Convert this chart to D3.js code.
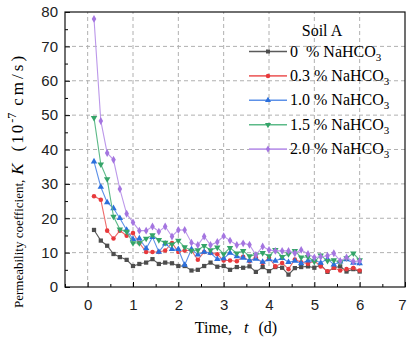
<!DOCTYPE html>
<html>
<head>
<meta charset="utf-8">
<script src="https://cdn.jsdelivr.net/npm/d3@7"></script>
<style>
  html, body { margin: 0; padding: 0; background: #fff; }
  svg { display: block; font-family: "Liberation Serif", "DejaVu Serif", serif; }
</style>
</head>
<body>
<div id="chart"></div>
<script>
// time (d)
const times = [0.14, 0.29, 0.43, 0.57, 0.71, 0.86, 1.00, 1.14, 1.29, 1.43, 1.57, 1.71, 1.86, 2.00,
  2.14, 2.29, 2.43, 2.57, 2.71, 2.86, 3.00, 3.14, 3.29, 3.43, 3.57, 3.71, 3.86, 4.00,
  4.14, 4.29, 4.43, 4.57, 4.71, 4.86, 5.00, 5.14, 5.29, 5.43, 5.57, 5.71, 5.86, 6.00];

// permeability K (1e-7 cm/s)
const k00 = [16.6, 13.5, 12.0, 9.6, 8.7, 7.9, 6.1, 6.7, 7.1, 8.1, 6.7, 7.1, 6.9, 6.1,
  6.1, 4.8, 5.0, 6.1, 7.1, 5.9, 6.1, 5.0, 5.8, 5.6, 6.0, 4.4, 5.8, 4.6,
  5.8, 5.6, 3.6, 5.5, 5.8, 6.0, 5.6, 6.4, 4.4, 5.6, 6.0, 4.5, 5.2, 4.5];
const k03 = [26.4, 25.4, 16.4, 14.1, 16.4, 14.9, 15.7, 12.8, 10.2, 10.2, 10.2, 10.6, 12.8, 10.2,
  10.6, 10.6, 7.9, 10.2, 9.9, 9.5, 7.7, 7.7, 7.5, 8.8, 7.5, 8.6, 7.0, 8.5,
  6.0, 7.0, 5.2, 8.0, 7.2, 6.8, 7.6, 6.0, 4.6, 5.6, 4.8, 5.2, 5.5, 4.8];
const k10 = [36.5, 29.1, 24.6, 22.9, 20.0, 16.6, 13.9, 14.1, 11.2, 14.5, 10.2, 12.6, 11.0, 11.0,
  6.4, 11.0, 9.4, 10.2, 9.9, 8.1, 8.3, 9.9, 8.9, 8.5, 7.7, 8.2, 7.3, 8.0,
  7.6, 8.4, 7.2, 7.6, 6.9, 7.7, 7.9, 7.0, 8.2, 6.5, 7.4, 8.0, 7.0, 6.9];
const k15 = [49.2, 35.7, 31.4, 20.5, 16.8, 16.1, 12.8, 12.8, 14.1, 15.1, 13.7, 12.9, 12.4, 13.5,
  11.6, 10.6, 10.7, 12.0, 10.7, 11.5, 9.6, 11.4, 9.8, 10.5, 9.0, 9.4, 9.9, 9.0,
  10.8, 8.8, 9.6, 10.5, 8.6, 8.8, 7.4, 9.2, 7.6, 7.8, 7.2, 8.4, 9.8, 7.8];
const k20 = [78.0, 48.3, 39.0, 37.0, 28.5, 21.3, 18.8, 16.4, 16.4, 17.6, 16.1, 17.6, 14.7, 16.6,
  16.6, 12.9, 12.2, 14.7, 12.2, 13.1, 14.8, 13.5, 12.2, 12.7, 12.3, 9.3, 11.8, 10.8,
  10.5, 10.5, 10.5, 9.8, 10.8, 9.6, 8.6, 8.8, 9.1, 9.8, 7.6, 8.6, 7.4, 7.6];

const seriesNames = ['0', '0.3', '1.0', '1.5', '2.0'];
const xTicks = [0, 1, 2, 3, 4, 5, 6, 7];
const yTicks = [0, 10, 20, 30, 40, 50, 60, 70, 80];

const series = [
  { name: seriesNames[0], values: k00, mark: '#4d4d4d', line: '#5a5a5a', shape: d3.symbolSquare, rot: 0 },
  { name: seriesNames[1], values: k03, mark: '#e8393c', line: '#ee6a6a', shape: d3.symbolCircle, rot: 0 },
  { name: seriesNames[2], values: k10, mark: '#2b6fdc', line: '#5d91e8', shape: d3.symbolTriangle, rot: 0 },
  { name: seriesNames[3], values: k15, mark: '#34a468', line: '#5cba88', shape: d3.symbolTriangle, rot: 180 },
  { name: seriesNames[4], values: k20, mark: '#a475e0', line: '#bc98ea', shape: d3.symbolDiamond, rot: 0 }
];

const width = 408, height = 342;
const margin = { top: 12, right: 3, bottom: 55, left: 65 };

const svg = d3.select('#chart').append('svg')
  .attr('width', width)
  .attr('height', height);

const x = d3.scaleLinear().domain([-0.5, 7]).range([margin.left, width - margin.right]);
const y = d3.scaleLinear().domain([0, 80]).range([height - margin.bottom, margin.top]);

// grid
svg.append('g')
  .selectAll('line')
  .data(xTicks.filter(d => d < 7))
  .enter().append('line')
  .attr('x1', d => x(d)).attr('x2', d => x(d))
  .attr('y1', y(0)).attr('y2', y(80))
  .attr('stroke', '#b0b0b0').attr('stroke-width', 1).attr('stroke-dasharray', '4,3');

svg.append('g')
  .selectAll('line')
  .data(yTicks.filter(d => d > 0 && d < 80))
  .enter().append('line')
  .attr('x1', x(-0.5)).attr('x2', x(7))
  .attr('y1', d => y(d)).attr('y2', d => y(d))
  .attr('stroke', '#b0b0b0').attr('stroke-width', 1).attr('stroke-dasharray', '4,3');

// axes, ticks pointing inward
const xAxis = svg.append('g')
  .attr('transform', `translate(0,${y(0)})`)
  .call(d3.axisBottom(x).tickValues(xTicks).tickSize(-5).tickPadding(12).tickFormat(d3.format('d')));
xAxis.select('.domain').remove();
xAxis.selectAll('text').style('font-size', '15px').attr('fill', '#222')
  .attr('dx', d => d === 7 ? -3 : 0);

svg.append('g')
  .attr('transform', `translate(0,${y(0)})`)
  .call(d3.axisBottom(x).tickValues(d3.range(-0.5, 7, 0.5).filter(d => d % 1 !== 0)).tickSize(-3).tickFormat(''))
  .select('.domain').remove();

const yAxis = svg.append('g')
  .attr('transform', `translate(${margin.left},0)`)
  .call(d3.axisLeft(y).tickValues(yTicks).tickSize(-5).tickPadding(7));
yAxis.select('.domain').remove();
yAxis.selectAll('text').style('font-size', '15px').attr('fill', '#222');

svg.append('g')
  .attr('transform', `translate(${margin.left},0)`)
  .call(d3.axisLeft(y).tickValues(yTicks.slice(0, -1).map(d => d + 5)).tickSize(-3).tickFormat(''))
  .select('.domain').remove();

// frame
svg.append('rect')
  .attr('x', x(-0.5)).attr('y', y(80))
  .attr('width', x(7) - x(-0.5)).attr('height', y(0) - y(80))
  .attr('fill', 'none').attr('stroke', '#111').attr('stroke-width', 1.2);

// series
const line = d3.line().x((d, i) => x(times[i])).y(d => y(d));

series.forEach(s => {
  svg.append('path')
    .attr('d', line(s.values))
    .attr('fill', 'none')
    .attr('stroke', s.line)
    .attr('stroke-width', 1.1);
  svg.append('g')
    .selectAll('path')
    .data(s.values)
    .enter().append('path')
    .attr('d', d3.symbol().type(s.shape).size(s.shape === d3.symbolCircle ? 16 : 18))
    .attr('transform', (d, i) => `translate(${x(times[i])},${y(d)}) rotate(${s.rot})`)
    .attr('fill', s.mark);
});

// legend
const legend = svg.append('g');
legend.append('text')
  .attr('x', 322).attr('y', 36)
  .attr('text-anchor', 'middle')
  .style('font-size', '16px')
  .text('Soil A');

series.forEach((s, i) => {
  const ly = 51.5 + i * 24.4;
  legend.append('line')
    .attr('x1', 249).attr('x2', 287)
    .attr('y1', ly).attr('y2', ly)
    .attr('stroke', s.line).attr('stroke-width', 1.6);
  legend.append('path')
    .attr('d', d3.symbol().type(s.shape).size(16))
    .attr('transform', `translate(268,${ly}) rotate(${s.rot})`)
    .attr('fill', s.mark);
  const t = legend.append('text')
    .attr('x', 290).attr('y', ly + 5)
    .style('font-size', '16px');
  t.append('tspan').text(s.name === '0' ? '0  % NaHCO' : s.name + ' % NaHCO').attr('xml:space', 'preserve');
  t.append('tspan').text('3').attr('dy', 4).style('font-size', '11px');
});

// axis titles
const xt = svg.append('text')
  .attr('x', 236).attr('y', 333)
  .attr('text-anchor', 'middle')
  .style('font-size', '16px');
xt.append('tspan').text('Time,');
xt.append('tspan').text('t').attr('dx', 12).style('font-style', 'italic');
xt.append('tspan').text('(d)').attr('dx', 10);

const yt = svg.append('text')
  .attr('transform', 'translate(23,308) rotate(-90)')
  .attr('text-anchor', 'start');
yt.append('tspan').text('Permeability coefficient,').style('font-size', '13px');
yt.append('tspan').text('K').attr('dx', 5).style('font-size', '17px').style('font-style', 'italic');
yt.append('tspan').text('(10').attr('dx', 12).style('font-size', '17px').style('letter-spacing', '2px');
yt.append('tspan').text('-7').attr('dy', -7).style('font-size', '12px');
yt.append('tspan').text('cm/s)').attr('dx', 7).attr('dy', 7).style('font-size', '17px').style('letter-spacing', '3px');
</script>
</body>
</html>
